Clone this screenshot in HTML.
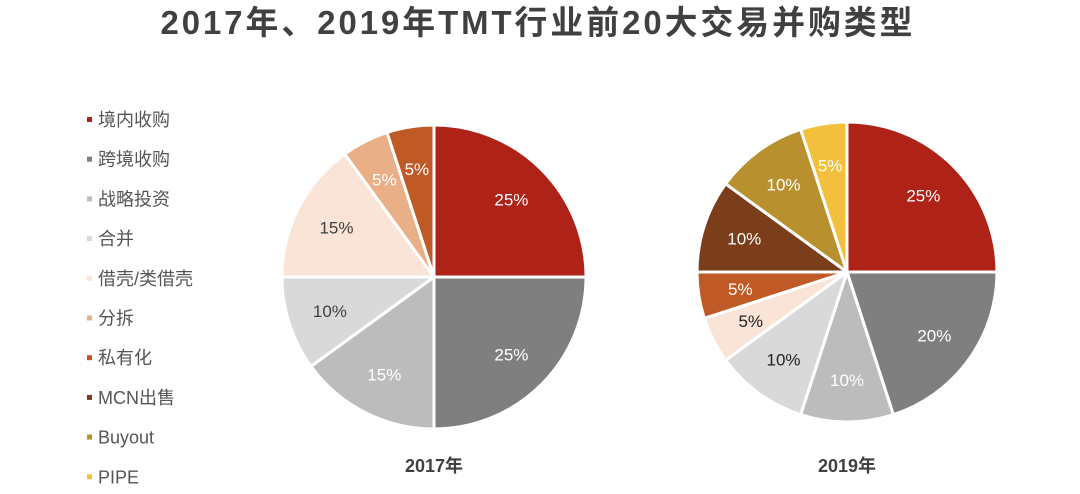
<!DOCTYPE html>
<html><head><meta charset="utf-8"><style>
body{margin:0;background:#fff;}
svg{display:block;font-family:"Liberation Sans","Noto Sans CJK SC",sans-serif;}
</style></head><body>
<svg id="s" width="1080" height="494" viewBox="0 0 1080 494">
<text x="538" y="34" text-anchor="middle" font-size="33" font-weight="bold" fill="#404040" letter-spacing="3" textLength="755" lengthAdjust="spacingAndGlyphs">2017年、2019年TMT行业前20大交易并购类型</text>
<text x="434" y="472" text-anchor="middle" font-size="18" font-weight="bold" fill="#404040">2017年</text>
<text x="847" y="472" text-anchor="middle" font-size="18" font-weight="bold" fill="#404040">2019年</text>
</svg>
<script>
var s=document.getElementById('s'),NS='http://www.w3.org/2000/svg';
function el(t,a,txt){var e=document.createElementNS(NS,t);for(var k in a)e.setAttribute(k,a[k]);if(txt)e.textContent=txt;s.appendChild(e);return e;}
var C=['#ae2217','#7f7f7f','#bcbcbc','#d9d9d9','#fae4d7','#e9b088','#bf5a27','#7b3e1a','#b8912e','#f3c03e'];
var names=['境内收购','跨境收购','战略投资','合并','借壳/类借壳','分拆','私有化','MCN出售','Buyout','PIPE'];
for(var i=0;i<10;i++){var y=120+i*39.7;el('rect',{x:87,y:y-3,width:5,height:5,fill:C[i]});el('text',{x:98,y:y+6,'font-size':18,fill:'#555'},names[i]);}
function pie(cx,cy,r,data){var a=0;data.forEach(function(d){var v=d[0],c=C[d[1]],a0=a,a1=a+v/100*2*Math.PI;a=a1;
var x0=cx+r*Math.sin(a0),y0=cy-r*Math.cos(a0),x1=cx+r*Math.sin(a1),y1=cy-r*Math.cos(a1);
el('path',{d:'M'+cx+','+cy+'L'+x0+','+y0+'A'+r+','+r+' 0 '+((a1-a0)>Math.PI?1:0)+' 1 '+x1+','+y1+'Z',fill:c,stroke:'#fff','stroke-width':3,'stroke-linejoin':'round'});
var m=(a0+a1)/2,lr=r*0.72;el('text',{x:cx+lr*Math.sin(m),y:cy-lr*Math.cos(m)+6,'text-anchor':'middle','font-size':17,fill:d[2]},v+'%');});}
pie(434,277,152,[[25,0,'#fff'],[25,1,'#fff'],[15,2,'#fff'],[10,3,'#404040'],[15,4,'#404040'],[5,5,'#fff'],[5,6,'#fff']]);
pie(847,272,150,[[25,0,'#fff'],[20,1,'#fff'],[10,2,'#fff'],[10,3,'#222'],[5,4,'#222'],[5,6,'#fff'],[10,7,'#fff'],[10,8,'#fff'],[5,9,'#fff']]);
</script>
</body></html>
